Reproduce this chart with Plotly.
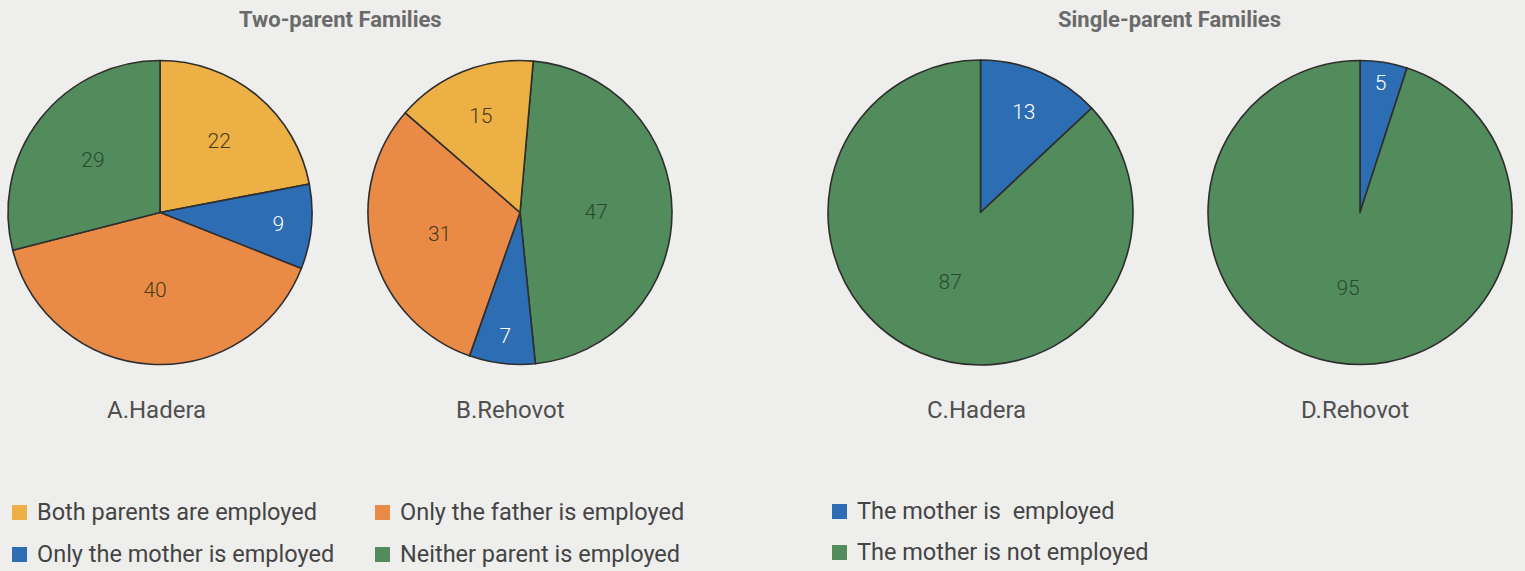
import plotly.graph_objects as go

# ---- data ----
two_parent_labels = ["Both parents are employed", "Only the mother is employed",
                     "Only the father is employed", "Neither parent is employed"]
hadera_two = [22, 9, 40, 29]
rehovot_two_labels = ["Neither parent is employed", "Only the mother is employed",
                      "Only the father is employed", "Both parents are employed"]
rehovot_two = [47, 7, 31, 15]
single_labels = ["The mother is  employed", "The mother is not employed"]
hadera_single = [13, 87]
rehovot_single = [5, 95]
pie_names = ["A.Hadera", "B.Rehovot", "C.Hadera", "D.Rehovot"]
group_titles = ["Two-parent Families", "Single-parent Families"]

legend_two_rows = [["Both parents are employed", "Only the father is employed"],
                   ["Only the mother is employed", "Neither parent is employed"]]
legend_single_rows = [["The mother is  employed"], ["The mother is not employed"]]

colors = {
    "Both parents are employed": "#EDB044",
    "Only the father is employed": "#E98B46",
    "Only the mother is employed": "#2C6DB3",
    "Neither parent is employed": "#528B5C",
    "The mother is  employed": "#2C6DB3",
    "The mother is not employed": "#528B5C",
}
text_colors = {
    "#EDB044": "#4A3A1A",
    "#E98B46": "#4A3A1A",
    "#2C6DB3": "#FFFFFF",
    "#528B5C": "#2A4A30",
}

W, H = 1525, 571
BG = "#EEEEEC"
FONT = "Roboto, sans-serif"


def px_dom(x0, x1, y0, y1):
    return dict(x=[x0 / W, x1 / W], y=[1 - y1 / H, 1 - y0 / H])


pies = [
    (two_parent_labels, hadera_two, px_dom(8, 312, 60, 365), 0),
    (rehovot_two_labels, rehovot_two, px_dom(368, 672, 60, 365), 5),
    (single_labels, hadera_single, px_dom(828, 1133, 60, 365), 0),
    (single_labels, rehovot_single, px_dom(1208, 1512, 60, 365), 0),
]

fig = go.Figure()
for labels, vals, dom, rot in pies:
    cols = [colors[l] for l in labels]
    fig.add_trace(go.Pie(
        labels=labels, values=vals, domain=dom, sort=False, direction="clockwise",
        rotation=rot, textinfo="value", textposition="inside",
        insidetextorientation="horizontal",
        marker=dict(colors=cols, line=dict(color="#2E2E2E", width=1.6)),
        textfont=dict(family=FONT, size=21, weight=300,
                      color=[text_colors[c] for c in cols]),
        showlegend=False, hoverinfo="label+value",
    ))

# pie names
name_x = [156, 510, 976, 1355]
for name, x in zip(pie_names, name_x):
    fig.add_annotation(x=x / W, y=1 - 410 / H, xref="paper", yref="paper",
                       text=name, showarrow=False, xanchor="center", yanchor="middle",
                       font=dict(family=FONT, size=24, color="#4F4F4F"))

# group titles
for t, x in zip(group_titles, [340, 1169]):
    fig.add_annotation(x=x / W, y=1 - 19 / H, xref="paper", yref="paper",
                       text="<b>%s</b>" % t, showarrow=False,
                       xanchor="center", yanchor="middle",
                       font=dict(family=FONT, size=22, color="#6A6A6A"))

# legends
def add_legend(rows, col_x, row_y):
    for r, row in enumerate(rows):
        for c, lab in enumerate(row):
            sx = col_x[c]
            sy = row_y[r]
            fig.add_shape(type="rect", xref="paper", yref="paper",
                          x0=sx / W, x1=(sx + 15) / W,
                          y0=1 - (sy + 8) / H, y1=1 - (sy - 7) / H,
                          fillcolor=colors[lab], line=dict(width=0))
            fig.add_annotation(x=(sx + 23) / W, y=1 - sy / H, xref="paper", yref="paper",
                               text=lab, showarrow=False, xanchor="left", yanchor="middle",
                               font=dict(family=FONT, size=23.5, color="#444444"))

add_legend(legend_two_rows, [12, 375], [512, 554])
add_legend(legend_single_rows, [832], [511, 552])

fig.update_layout(
    width=W, height=H, margin=dict(l=0, r=0, t=0, b=0),
    paper_bgcolor=BG, plot_bgcolor=BG,
    uniformtext=dict(minsize=21, mode="show"),
)
fig.write_html("out.html", config={"displayModeBar": False})

with open("out.html", "r", encoding="utf-8") as f:
    html = f.read()
html = html.replace("<body>", '<body style="margin:0;padding:0;overflow:hidden;background:%s">' % BG, 1)
with open("out.html", "w", encoding="utf-8") as f:
    f.write(html)
